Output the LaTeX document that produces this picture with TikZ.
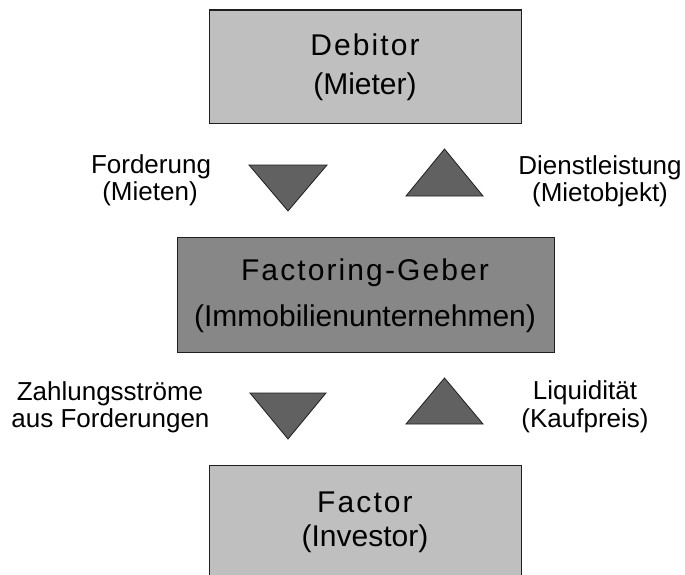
\documentclass[tikz,border=0pt]{standalone}
\usepackage{fontspec}
\setmainfont{Liberation Sans}
\newfontfamily\headfont[LetterSpace=7]{Liberation Sans}
\definecolor{boxlight}{gray}{0.75}
\definecolor{boxmid}{gray}{0.53}
\definecolor{arrowfill}{gray}{0.38}
\definecolor{edge}{gray}{0.12}
\begin{document}
\begin{tikzpicture}[x=1pt,y=-1pt,
  box/.style={draw=edge,line width=1.2pt,inner sep=0pt,anchor=north west,minimum width=#1},
  lightbox/.style={box=#1,fill=boxlight},
  midbox/.style={box=#1,fill=boxmid},
  tri/.style={fill=arrowfill,draw=edge,line width=0.8pt,line join=miter},
  head/.style={anchor=base,inner sep=0pt,font=\headfont\fontsize{30}{36}\selectfont},
  sub/.style={anchor=base,inner sep=0pt,font=\fontsize{30}{36}\selectfont},
  lbl/.style={anchor=base,inner sep=0pt,font=\fontsize{26}{28}\selectfont}]
\clip (0,0) rectangle (685,575);

% the three parties
\node[lightbox=312pt,minimum height=113.5pt] (debitor) at (209,9.5) {};
\node[midbox=377pt,minimum height=115pt] (geber) at (177,237) {};
\node[lightbox=312pt,minimum height=140pt] (factor) at (209,465) {};

\node[head] (debitorT) at (365,55.5) {Debitor};
\node[sub] (debitorS) at (365,94.3) {(Mieter)};
\node[head] (geberT) at (365,280) {Factoring-Geber};
\node[sub] (geberS) at (365,326.5) {(Immobilienunternehmen)};
\node[head] (factorT) at (365,512.7) {Factor};
\node[sub] (factorS) at (365,546.7) {(Investor)};

% flow markers between the parties
\coordinate (t1a) at (249,165); \coordinate (t1b) at (327,165); \coordinate (t1c) at (288,211);
\coordinate (t2a) at (406,196); \coordinate (t2b) at (483,196); \coordinate (t2c) at (444.5,149);
\coordinate (t3a) at (250,393); \coordinate (t3b) at (326,393); \coordinate (t3c) at (288,439);
\coordinate (t4a) at (406,424); \coordinate (t4b) at (483,424); \coordinate (t4c) at (444.5,378);
\filldraw[tri] (t1a) -- (t1b) -- (t1c) -- cycle;
\filldraw[tri] (t2a) -- (t2b) -- (t2c) -- cycle;
\filldraw[tri] (t3a) -- (t3b) -- (t3c) -- cycle;
\filldraw[tri] (t4a) -- (t4b) -- (t4c) -- cycle;

% flow labels
\node[lbl] (fordA) at (151,173.5) {Forderung};
\node[lbl] (fordB) at (150,200.7) {(Mieten)};
\node[lbl] (dienA) at (600,174) {Dienstleistung};
\node[lbl] (dienB) at (600,201) {(Mietobjekt)};
\node[lbl] (zahlA) at (110,400.5) {Zahlungsströme};
\node[lbl] (zahlB) at (110.5,427) {aus Forderungen};
\node[lbl] (liqA) at (585,399.5) {Liquidität};
\node[lbl] (liqB) at (585,427) {(Kaufpreis)};
\end{tikzpicture}
\end{document}
